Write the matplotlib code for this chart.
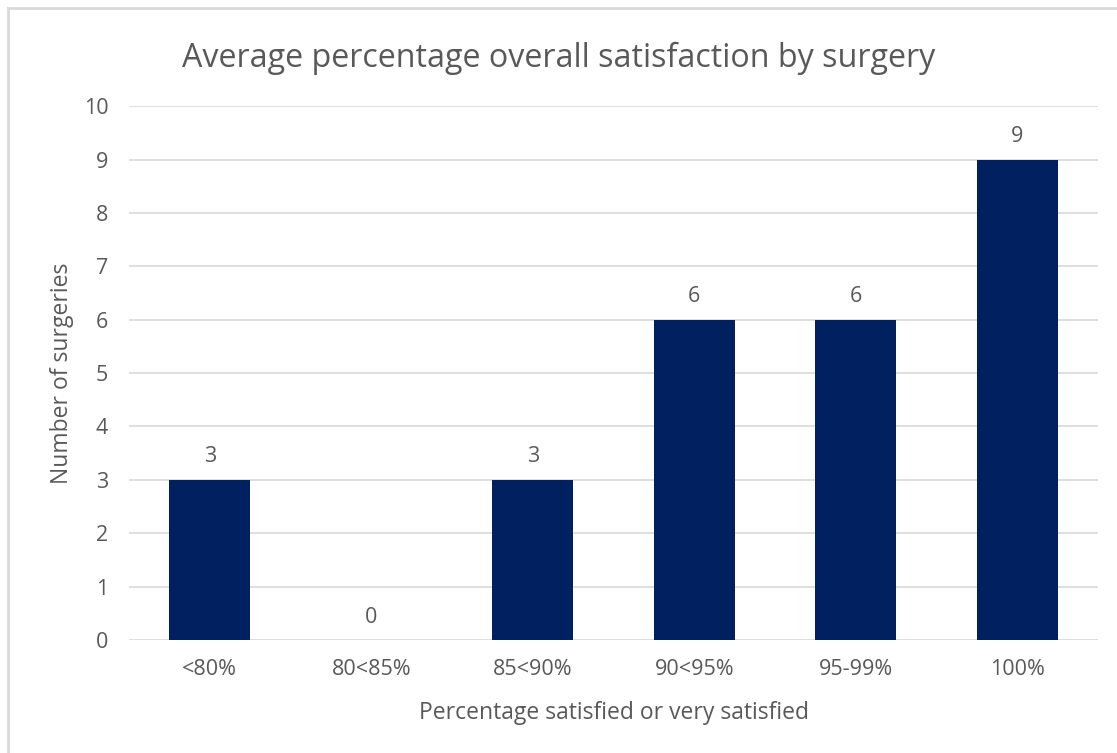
import matplotlib.pyplot as plt
from matplotlib.lines import Line2D

categories = ["<80%", "80<85%", "85<90%", "90<95%", "95-99%", "100%"]
surgeries = [3, 0, 3, 6, 6, 9]

plt.rcParams["font.family"] = ["Open Sans", "DejaVu Sans"]
text_color = "#595959"

fig = plt.figure(figsize=(11.17, 7.53), dpi=100)
ax = fig.add_axes([0.1155, 0.150, 0.8675, 0.709])

x = range(len(categories))
bars = ax.bar(x, surgeries, width=0.5, color="#002060", zorder=3)
for rect, v in zip(bars, surgeries):
    ax.annotate(str(v), (rect.get_x() + rect.get_width() / 2, v),
                xytext=(0, 9), textcoords="offset points",
                ha="center", va="bottom", fontsize=15.5, color=text_color)

ax.set_xlim(-0.5, len(categories) - 0.5)
ax.set_ylim(0, 10)
ax.set_yticks(range(0, 11))
ax.set_xticks(list(x))
ax.set_xticklabels(categories)
ax.grid(axis="y", color="#d9d9d9", linewidth=1.2, zorder=0)
ax.tick_params(length=0, labelsize=15.5, labelcolor=text_color)
ax.tick_params(axis="x", pad=14)
ax.tick_params(axis="y", pad=15)
for s in ax.spines.values():
    s.set_visible(False)

ax.set_xlabel("Percentage satisfied or very satisfied", fontsize=16.5,
              color=text_color, labelpad=15)
ax.set_ylabel("Number of surgeries", fontsize=16.5, color=text_color, labelpad=7)
fig.text(0.5, 0.923, "Average percentage overall satisfaction by surgery",
         ha="center", va="center", fontsize=23.2, color=text_color)

# chart frame along top and left edges
fig.add_artist(Line2D([0.0075, 1.0], [0.9895, 0.9895], color="#d9d9d9", linewidth=2))
fig.add_artist(Line2D([0.0075, 0.0075], [0.0, 0.9895], color="#d9d9d9", linewidth=2))

fig.savefig("out.png", dpi=100)
